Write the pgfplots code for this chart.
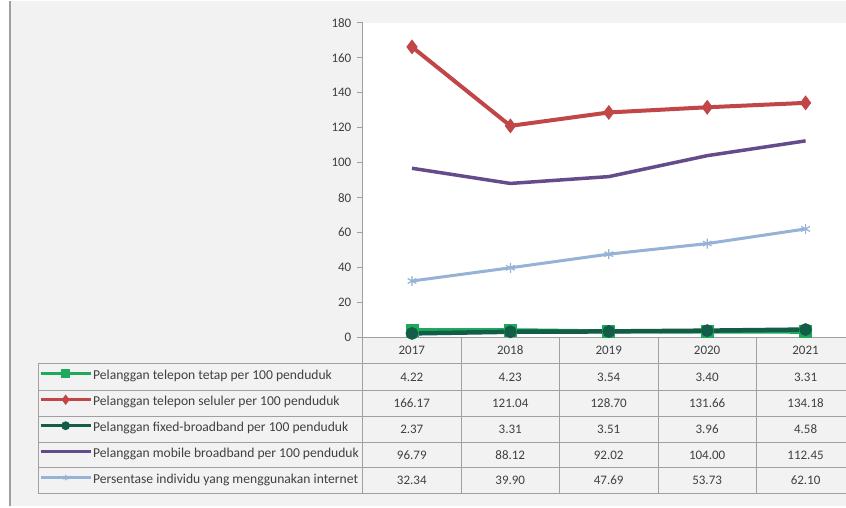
\documentclass[border=0pt]{standalone}
\usepackage{fontspec}
\setmainfont{Carlito}
\usepackage{pgfplots}
\usepackage{pgfplotstable}
\pgfplotsset{compat=1.18}
\definecolor{bg}{RGB}{242,242,242}
\definecolor{cgreen}{RGB}{30,170,90}
\definecolor{cred}{RGB}{192,70,72}
\definecolor{cteal}{RGB}{18,92,72}
\definecolor{cpurple}{RGB}{100,76,140}
\definecolor{cblue}{RGB}{150,178,214}
\definecolor{txt}{RGB}{64,64,64}
\definecolor{gline}{RGB}{160,160,160}
\pgfplotstableread{
year tetap seluler fixed mobile internet
2017 4.22 166.17 2.37 96.79 32.34
2018 4.23 121.04 3.31 88.12 39.90
2019 3.54 128.70 3.51 92.02 47.69
2020 3.40 131.66 3.96 104.00 53.73
2021 3.31 134.18 4.58 112.45 62.10
}\datatable
\begin{document}
\begin{tikzpicture}[x=1pt,y=1pt]
\fill[white] (0,0) rectangle (846,506);
\fill[bg] (10,0) rectangle (846,506);
\draw[gline, line width=1.5pt] (10,0) -- (10,506);
\fill[white] (363,169) rectangle (846,484);
% table lines
\foreach \yy in {143,116,90,64,39,13} \draw[gline, line width=0.9pt] (38,\yy) -- (846,\yy);
\draw[gline, line width=0.9pt] (38,143) -- (38,13);
\foreach \xx in {363,461.5,560,658.5,757} \draw[gline, line width=0.9pt] (\xx,169) -- (\xx,13);
\begin{axis}[
  at={(363pt,169pt)}, anchor=south west,
  scale only axis, width=483pt, height=315pt,
  xmin=2016.5, xmax=2021.406, ymin=0, ymax=180,
  ytick={0,20,...,180}, xtick=\empty,
  axis x line*=bottom, axis y line*=left,
  axis line style={draw=gline, line width=0.9pt},
  tick align=outside, major tick length=6pt,
  tick style={draw=gline, line width=0.9pt},
  yticklabel style={font=\fontsize{13}{13}\selectfont, text=txt, xshift=-2pt},
  /pgf/number format/assume math mode=true,
  clip=false,
  legend style={at={(-0.6708,-0.0825)}, anchor=north west, draw=none, fill=none,
    inner sep=0pt, row sep=0pt, column sep=1pt,
    font=\fontsize{13.6}{13.6}\selectfont,
    nodes={text=txt, inner sep=0pt, minimum height=26pt, text height=9pt, text depth=3pt}},
  legend cell align=left,
  legend image code/.code={\draw[mark repeat=2, mark phase=2, #1, line width=3pt, mark size=2.8pt] plot coordinates {(0pt,3pt) (25pt,3pt) (50pt,3pt)};},
]
\addplot[cgreen, line width=4pt, mark=square*, mark size=4.5pt, mark options={solid}] table[x=year, y=tetap] {\datatable};
\addlegendentry{Pelanggan telepon tetap per 100 penduduk}
\addplot[cred, line width=4pt, mark=diamond*, mark size=4.2pt] table[x=year, y=seluler] {\datatable};
\addlegendentry{Pelanggan telepon seluler per 100 penduduk}
\addplot[cteal, line width=4.5pt, mark=*, mark size=4pt] table[x=year, y=fixed] {\datatable};
\addlegendentry{Pelanggan fixed-broadband per 100 penduduk}
\addplot[cpurple, line width=3.5pt] table[x=year, y=mobile] {\datatable};
\addlegendentry{Pelanggan mobile broadband per 100 penduduk}
\addplot[cblue, line width=3pt, mark=asterisk, mark size=5pt, mark options={line width=1.2pt}] table[x=year, y=internet] {\datatable};
\addlegendentry{Persentase individu yang menggunakan internet}
\end{axis}
% header row and values
\foreach \yr [count=\i from 0] in {2017,2018,2019,2020,2021}
  \node[text=txt, font=\fontsize{13}{13}\selectfont] at ({412+98.5*\i},156) {\yr};
\foreach \col/\yy in {tetap/129.5, seluler/103, fixed/77, mobile/51.5, internet/26} {
  \foreach \r in {0,...,4} {
    \pgfplotstablegetelem{\r}{\col}\of\datatable
    \node[text=txt, font=\fontsize{13}{13}\selectfont] at ({412+98.5*\r},\yy) {\pgfplotsretval};
  }
}
\end{tikzpicture}
\end{document}
